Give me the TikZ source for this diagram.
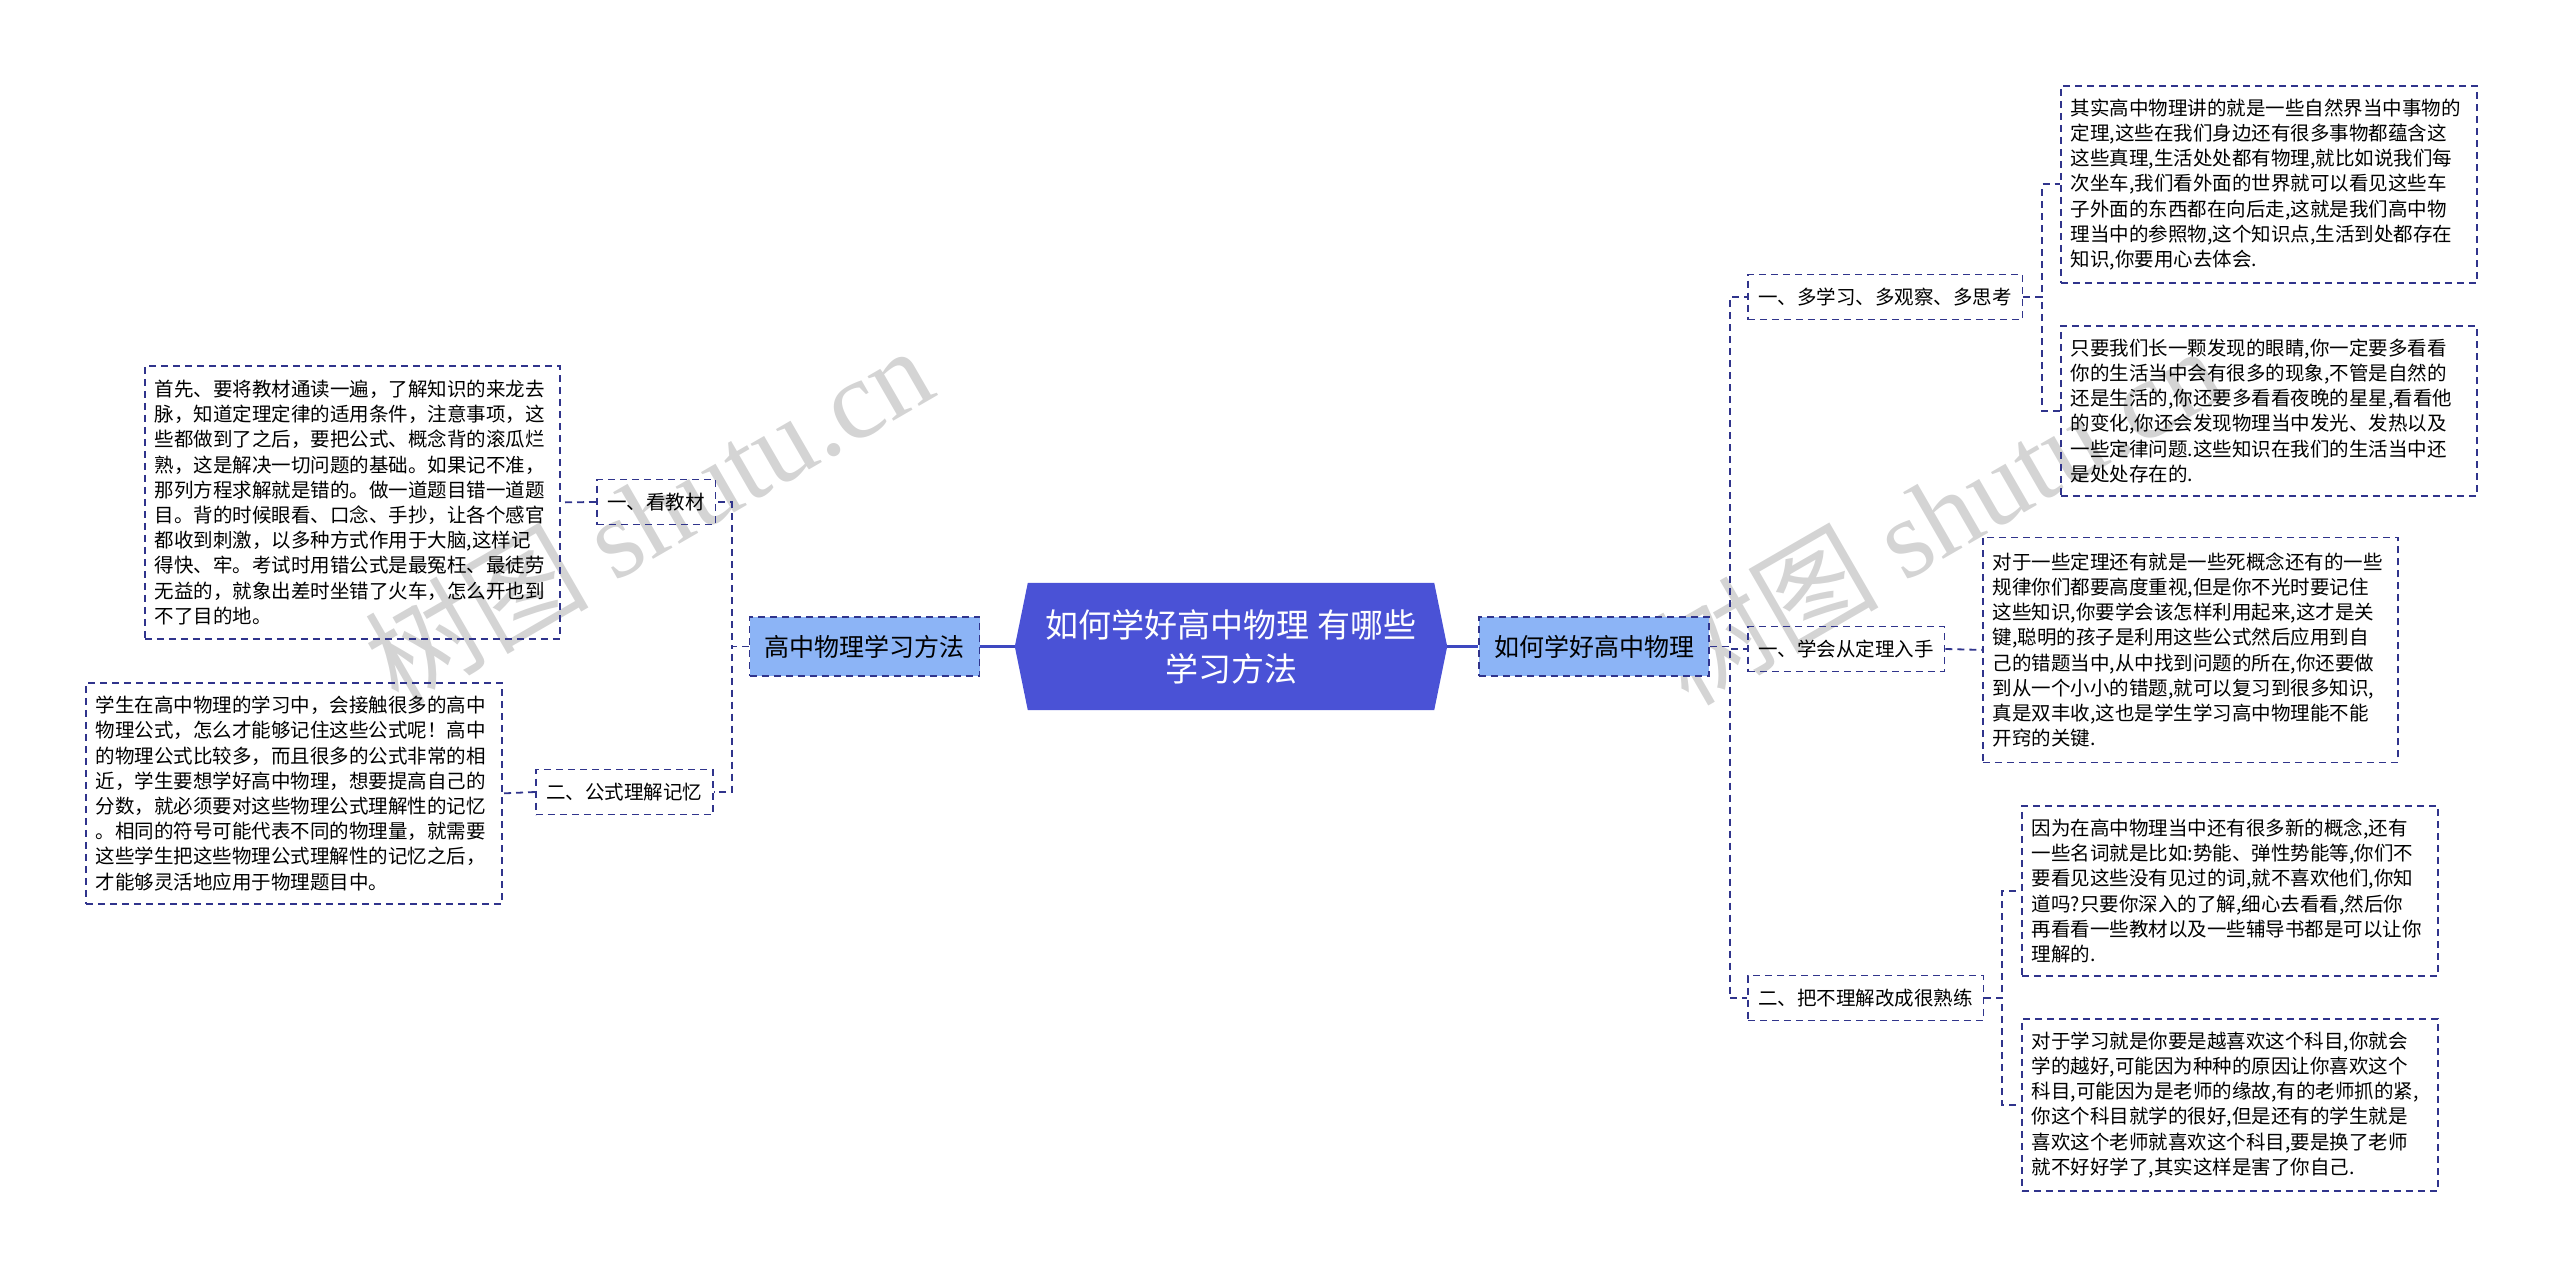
\documentclass[tikz,border=0pt]{standalone}
\usepackage{fontspec}
\setmainfont{Noto Sans CJK SC}
\newfontfamily\wmlatin{Liberation Serif}
\usetikzlibrary{backgrounds}
\definecolor{navy}{RGB}{48,52,140}
\definecolor{mainline}{RGB}{62,72,192}
\definecolor{cfill}{RGB}{74,82,214}
\definecolor{lfill}{RGB}{140,180,246}
\definecolor{wmgray}{RGB}{212,212,212}
\tikzset{
  dsh/.style={draw=navy, line width=1.8pt, dash pattern=on 7pt off 5pt},
  txtbox/.style={dsh, anchor=north west, align=left, inner xsep=10pt, inner ysep=6pt,
    font=\fontsize{19.5}{25.2}\selectfont},
  lab/.style={dsh, anchor=west, inner xsep=10.5pt, inner ysep=4pt, minimum height=45pt,
    font=\fontsize{19.5}{24}\selectfont},
  lvl/.style={dsh, fill=lfill, inner xsep=15pt, minimum height=59pt,
    font=\fontsize{25}{30}\selectfont},
  conn/.style={draw=navy, line width=1.8pt, dash pattern=on 7pt off 5pt},
  mainconn/.style={draw=mainline, line width=3pt},
  wm/.style={text=wmgray, rotate=30, font=\fontsize{112}{112}\selectfont}
}
\begin{document}
\begin{tikzpicture}[x=1pt,y=-1pt]
\useasboundingbox (0,0) rectangle (2560,1276);

% watermarks
\node[wm] (wm1) at (648,514) {树图 {\wmlatin shutu.cn}};
\node[wm] (wm2) at (1938,514) {树图 {\wmlatin shutu.cn}};

% central node
\node[text=white, align=center, minimum width=432pt, minimum height=127pt,
  font=\fontsize{33}{44}\selectfont] (C) at (1231,646.5) {如何学好高中物理 有哪些\\学习方法};
\begin{scope}[on background layer]
\fill[cfill] ([xshift=13pt]C.north west) -- ([xshift=-13pt]C.north east) -- (C.east)
  -- ([xshift=-13pt]C.south east) -- ([xshift=13pt]C.south west) -- (C.west) -- cycle;
\end{scope}

% level 1
\node[lvl] (L) at (864.5,646.5) {高中物理学习方法};
\node[lvl] (R) at (1594,646.5) {如何学好高中物理};

% left labels
\node[lab] (l1) at (596,502) {一、看教材};
\node[lab] (l2) at (535,792) {二、公式理解记忆};

% left boxes
\node[txtbox, text width=395pt, minimum height=273pt] (bl1) at (144,365) {首先、要将教材通读一遍，了解知识的来龙去\\脉，知道定理定律的适用条件，注意事项，这\\些都做到了之后，要把公式、概念背的滚瓜烂\\熟，这是解决一切问题的基础。如果记不准，\\那列方程求解就是错的。做一道题目错一道题\\目。背的时候眼看、口念、手抄，让各个感官\\都收到刺激，以多种方式作用于大脑,这样记\\得快、牢。考试时用错公式是最冤枉、最徒劳\\无益的，就象出差时坐错了火车，怎么开也到\\不了目的地。};
\node[txtbox, text width=396pt, minimum height=221pt] (bl2) at (85,682) {学生在高中物理的学习中，会接触很多的高中\\物理公式，怎么才能够记住这些公式呢！高中\\的物理公式比较多，而且很多的公式非常的相\\近，学生要想学好高中物理，想要提高自己的\\分数，就必须要对这些物理公式理解性的记忆\\。相同的符号可能代表不同的物理量，就需要\\这些学生把这些物理公式理解性的记忆之后，\\才能够灵活地应用于物理题目中。};

% right labels
\node[lab] (r1) at (1747,297) {一、多学习、多观察、多思考};
\node[lab] (r2) at (1747,649) {一、学会从定理入手};
\node[lab] (r3) at (1747,998) {二、把不理解改成很熟练};

% right boxes
\node[txtbox, text width=396pt, minimum height=197pt] (br1) at (2060,85) {其实高中物理讲的就是一些自然界当中事物的\\定理,这些在我们身边还有很多事物都蕴含这\\这些真理,生活处处都有物理,就比如说我们每\\次坐车,我们看外面的世界就可以看见这些车\\子外面的东西都在向后走,这就是我们高中物\\理当中的参照物,这个知识点,生活到处都存在\\知识,你要用心去体会.};
\node[txtbox, text width=396pt, minimum height=170pt] (br2) at (2060,325) {只要我们长一颗发现的眼睛,你一定要多看看\\你的生活当中会有很多的现象,不管是自然的\\还是生活的,你还要多看看夜晚的星星,看看他\\的变化,你还会发现物理当中发光、发热以及\\一些定律问题.这些知识在我们的生活当中还\\是处处存在的.};
\node[txtbox, text width=395pt, minimum height=225pt] (br3) at (1982,536.5) {对于一些定理还有就是一些死概念还有的一些\\规律你们都要高度重视,但是你不光时要记住\\这些知识,你要学会该怎样利用起来,这才是关\\键,聪明的孩子是利用这些公式然后应用到自\\己的错题当中,从中找到问题的所在,你还要做\\到从一个小小的错题,就可以复习到很多知识,\\真是双丰收,这也是学生学习高中物理能不能\\开窍的关键.};
\node[txtbox, text width=396pt, minimum height=170pt] (br4) at (2021,805) {因为在高中物理当中还有很多新的概念,还有\\一些名词就是比如:势能、弹性势能等,你们不\\要看见这些没有见过的词,就不喜欢他们,你知\\道吗?只要你深入的了解,细心去看看,然后你\\再看看一些教材以及一些辅导书都是可以让你\\理解的.};
\node[txtbox, text width=396pt, minimum height=172pt] (br5) at (2021,1018) {对于学习就是你要是越喜欢这个科目,你就会\\学的越好,可能因为种种的原因让你喜欢这个\\科目,可能因为是老师的缘故,有的老师抓的紧,\\你这个科目就学的很好,但是还有的学生就是\\喜欢这个老师就喜欢这个科目,要是换了老师\\就不好好学了,其实这样是害了你自己.};

% connectors
\draw[mainconn] (C.west) -- (L.east);
\draw[mainconn] (C.east) -- (R.west);
\draw[conn] (L.west) -- ++(-17,0) |- (l1.east);
\draw[conn] (L.west) -- ++(-17,0) |- (l2.east);
\draw[conn] (l1.west) -- (bl1.east);
\draw[conn] (l2.west) -- (bl2.east);
\draw[conn] (R.east) -- ++(20,0) |- (r1.west);
\draw[conn] (R.east) -- ++(20,0) |- (r2.west);
\draw[conn] (R.east) -- ++(20,0) |- (r3.west);
\draw[conn] (r1.east) -- ++(19,0) |- (br1.west);
\draw[conn] (r1.east) -- ++(19,0) |- (br2.west);
\draw[conn] (r2.east) -- (br3.west);
\draw[conn] (r3.east) -- ++(18,0) |- (br4.west);
\draw[conn] (r3.east) -- ++(18,0) |- (br5.west);
\end{tikzpicture}
\end{document}
